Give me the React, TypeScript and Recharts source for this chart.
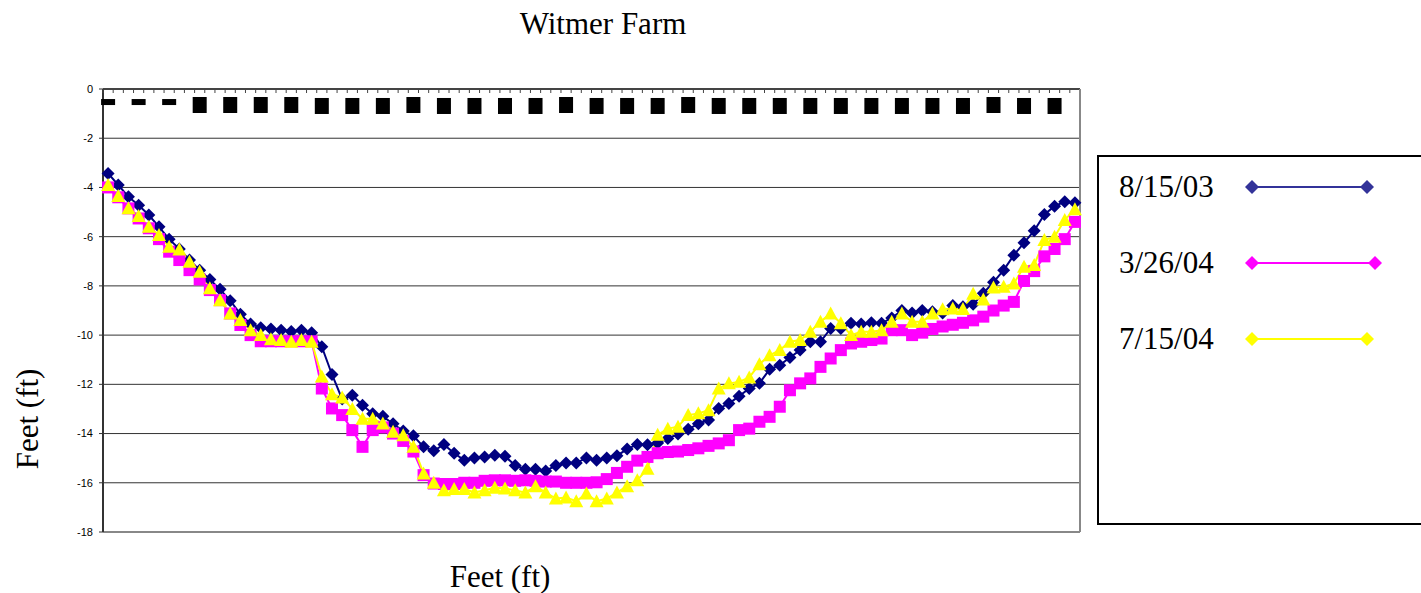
import React from 'react';
import { CartesianGrid, Legend, Line, LineChart, ReferenceLine, XAxis, YAxis } from 'recharts';

// survey stations across the channel (unlabelled on the chart)
const stations = [
  '1', '2', '3', '4', '5', '6', '7', '8', '9', '10', '11', '12', '13', '14', '15', '16',
  '17', '18', '19', '20', '21', '22', '23', '24', '25', '26', '27', '28', '29', '30', '31', '32',
  '33', '34', '35', '36', '37', '38', '39', '40', '41', '42', '43', '44', '45', '46', '47', '48',
  '49', '50', '51', '52', '53', '54', '55', '56', '57', '58', '59', '60', '61', '62', '63', '64',
  '65', '66', '67', '68', '69', '70', '71', '72', '73', '74', '75', '76', '77', '78', '79', '80',
  '81', '82', '83', '84', '85', '86', '87', '88', '89', '90', '91', '92', '93', '94', '95', '96',
];

const survey0803 = [
  -3.43, -3.9, -4.38, -4.72, -5.12, -5.6, -6.1, -6.5, -6.95, -7.36, -7.74, -8.14, -8.6, -9.15, -9.55, -9.7,
  -9.75, -9.8, -9.85, -9.8, -9.9, -10.47, -11.6, -12.6, -12.44, -12.85, -13.2, -13.3, -13.6, -13.9, -14.09, -14.54,
  -14.7, -14.44, -14.8, -15.08, -14.99, -14.95, -14.88, -14.92, -15.3, -15.45, -15.45, -15.52, -15.3, -15.2, -15.2, -14.99,
  -15.08, -14.99, -14.9, -14.63, -14.44, -14.45, -14.38, -14.2, -14.02, -13.83, -13.6, -13.45, -12.98, -12.78, -12.48, -12.17,
  -11.96, -11.39, -11.22, -10.91, -10.61, -10.27, -10.27, -9.73, -9.73, -9.52, -9.55, -9.5, -9.52, -9.3, -9.0, -9.1,
  -9.0, -9.05, -9.1, -8.8, -8.85, -8.75, -8.3, -7.85, -7.36, -6.75, -6.25, -5.76, -5.1, -4.76, -4.58, -4.62,
];

const survey0304 = [
  -4.0, -4.4, -4.85, -5.26, -5.66, -6.1, -6.61, -6.95, -7.36, -7.74, -8.17, -8.58, -9.12, -9.59, -10.0, -10.25,
  -10.25, -10.25, -10.25, -10.25, -10.25, -12.17, -12.98, -13.25, -13.86, -14.54, -13.86, -13.75, -14.0, -14.3, -14.73, -15.69,
  -16.03, -16.05, -16.05, -16.0, -16.0, -15.92, -15.9, -15.9, -15.92, -15.9, -15.92, -15.95, -15.95, -16.0, -16.0, -16.0,
  -15.98, -15.85, -15.6, -15.35, -15.1, -14.95, -14.8, -14.75, -14.73, -14.67, -14.6, -14.5, -14.4, -14.27, -13.86, -13.8,
  -13.52, -13.32, -12.91, -12.24, -11.96, -11.76, -11.29, -10.95, -10.61, -10.34, -10.27, -10.2, -10.14, -9.8, -9.8, -10.0,
  -9.9, -9.75, -9.65, -9.58, -9.5, -9.4, -9.25, -9.0, -8.8, -8.65, -7.8, -7.4, -6.8, -6.5, -6.1, -5.4,
];

const survey0704 = [
  -3.9, -4.35, -4.85, -5.16, -5.6, -5.93, -6.41, -6.52, -7.02, -7.43, -8.1, -8.58, -9.12, -9.39, -9.8, -10.0,
  -10.17, -10.2, -10.27, -10.2, -10.27, -11.68, -12.4, -12.53, -13.0, -13.4, -13.4, -13.59, -13.93, -14.07, -14.54, -15.62,
  -16.0, -16.3, -16.25, -16.25, -16.39, -16.3, -16.2, -16.23, -16.3, -16.4, -16.14, -16.4, -16.64, -16.6, -16.75, -16.44,
  -16.75, -16.64, -16.4, -16.14, -15.9, -15.43, -14.05, -13.8, -13.72, -13.25, -13.18, -13.05, -12.17, -11.96, -11.9, -11.72,
  -11.18, -10.82, -10.61, -10.27, -10.2, -9.86, -9.46, -9.12, -9.52, -10.0, -9.86, -9.86, -9.8, -9.46, -9.12, -9.46,
  -9.46, -9.12, -8.95, -8.92, -8.94, -8.32, -8.55, -8.07, -8.04, -7.9, -7.22, -7.15, -6.14, -6.0, -5.32, -4.89,
];

// black marks near the top, one every third station
const waterDash = [-0.53, -0.53, -0.53];
const waterBlock = [
  -0.65, -0.65, -0.65, -0.65, -0.69, -0.69, -0.69, -0.65, -0.69, -0.69, -0.69, -0.69, -0.65, -0.69, -0.69,
  -0.69, -0.65, -0.69, -0.69, -0.69, -0.69, -0.69, -0.69, -0.69, -0.69, -0.69, -0.65, -0.69, -0.69,
];

const yTicks = [0, -2, -4, -6, -8, -10, -12, -14, -16, -18];
const gridValues = [-2, -4, -6, -8, -10, -12, -14, -16];

const seriesInfo = [
  { key: 's0803', name: '8/15/03', legendColor: '#333399', legendLength: 115 },
  { key: 's0304', name: '3/26/04', legendColor: '#FF00FF', legendLength: 123 },
  { key: 's0704', name: '7/15/04', legendColor: '#FFFF00', legendLength: 115 },
];

const W = 1421;
const H = 593;
const PLOT_LEFT = 103;
const PLOT_TOP = 89;
const PLOT_RIGHT = 1080;
const PLOT_BOTTOM = 532;
const BAND = (PLOT_RIGHT - PLOT_LEFT) / stations.length;

const SERIF = '"Liberation Serif", "Times New Roman", serif';
const SANS = '"Liberation Sans", Arial, sans-serif';

const data = stations.map((station, i) => {
  const k = i / 3;
  const onThird = i % 3 === 0;
  return {
    station,
    s0803: survey0803[i],
    s0304: survey0304[i],
    s0704: survey0704[i],
    dash: onThird && k < waterDash.length ? waterDash[k] : null,
    block: onThird && k >= waterDash.length && k - waterDash.length < waterBlock.length ? waterBlock[k - waterDash.length] : null,
  };
});

const empty = (key: string) => <g key={key} />;

const diamondDot = (color: string) => (props: any) => {
  const { cx, cy, index } = props;
  if (cx == null || cy == null) return empty(`d${index}`);
  return <path key={`d${index}`} d={`M${cx},${cy - 6.5}L${cx + 6.5},${cy}L${cx},${cy + 6.5}L${cx - 6.5},${cy}Z`} fill={color} />;
};

const squareDot = (color: string) => (props: any) => {
  const { cx, cy, index } = props;
  if (cx == null || cy == null) return empty(`s${index}`);
  return <rect key={`s${index}`} x={cx - 6} y={cy - 6} width={12} height={12} fill={color} />;
};

const triangleDot = (color: string) => (props: any) => {
  const { cx, cy, index } = props;
  if (cx == null || cy == null) return empty(`t${index}`);
  return <path key={`t${index}`} d={`M${cx},${cy - 7}L${cx + 7},${cy + 6}L${cx - 7},${cy + 6}Z`} fill={color} />;
};

const blockDot = (h: number) => (props: any) => {
  const { cx, cy, index, value } = props;
  if (cx == null || cy == null || value == null) return empty(`b${h}-${index}`);
  return <rect key={`b${h}-${index}`} x={cx - 7} y={cy - h / 2} width={14} height={h} fill="#000" />;
};

// category axis sits on top, its ticks fall between stations and point down into the plot
const TopTick = (props: any) => {
  const { x } = props;
  return <line x1={x - BAND / 2} x2={x - BAND / 2} y1={PLOT_TOP} y2={PLOT_TOP + 4} stroke="#444" strokeWidth={1} />;
};

const LegendMarker = ({ color, length }: { color: string; length: number }) => (
  <svg width={140} height={20}>
    <line x1={7} x2={7 + length} y1={10} y2={10} stroke={color} strokeWidth={2} />
    <path d="M7,3L14,10L7,17L0,10Z" fill={color} />
    <path d={`M${7 + length},3L${14 + length},10L${7 + length},17L${length},10Z`} fill={color} />
  </svg>
);

const LegendBox = () => (
  <div
    style={{
      width: 340,
      height: 370,
      boxSizing: 'border-box',
      border: '2px solid #000',
      background: '#fff',
      position: 'relative',
      fontFamily: SERIF,
      fontSize: 31,
      color: '#000',
    }}
  >
    {seriesInfo.map((s, i) => (
      <div
        key={s.key}
        style={{ position: 'absolute', left: 20, top: 8 + i * 76, height: 44, display: 'flex', alignItems: 'center' }}
      >
        <span style={{ width: 126, display: 'inline-block', lineHeight: '44px' }}>{s.name}</span>
        <LegendMarker color={s.legendColor} length={s.legendLength} />
      </div>
    ))}
  </div>
);

export default function App() {
  return (
    <div style={{ position: 'absolute', left: 0, top: 0, width: W, height: H, overflow: 'hidden', background: '#fff' }}>
      <div
        style={{
          position: 'absolute', left: 403, top: 4, width: 400, textAlign: 'center',
          fontFamily: SERIF, fontSize: 31, lineHeight: '40px', color: '#000',
        }}
      >
        Witmer Farm
      </div>
      <LineChart
        width={W}
        height={H}
        data={data}
        margin={{ top: PLOT_TOP - 1, right: W - PLOT_RIGHT - 1, bottom: H - PLOT_BOTTOM, left: PLOT_LEFT - 1 }}
      >
        <CartesianGrid vertical={false} horizontalValues={gridValues} stroke="#333" strokeWidth={1} />
        <ReferenceLine y={-18} stroke="#888" strokeWidth={2} ifOverflow="visible" />
        <XAxis
          dataKey="station"
          orientation="top"
          height={1}
          interval={0}
          padding={{ left: BAND / 2, right: BAND / 2 }}
          axisLine={{ stroke: '#444', strokeWidth: 2 }}
          tickLine={false}
          tick={<TopTick />}
        />
        <YAxis
          domain={[-18, 0]}
          ticks={yTicks}
          width={1}
          interval={0}
          tickSize={4}
          tickMargin={6}
          axisLine={{ stroke: '#333', strokeWidth: 2 }}
          tickLine={{ stroke: '#333' }}
          tick={{ fill: '#000', fontSize: 11, fontFamily: SANS }}
        />
        <YAxis
          yAxisId="frame"
          orientation="right"
          domain={[-18, 0]}
          width={1}
          tick={false}
          tickLine={false}
          axisLine={{ stroke: '#888', strokeWidth: 2 }}
        />
        <Line dataKey="s0803" name="8/15/03" stroke="#000080" strokeWidth={2} dot={diamondDot('#000080')} activeDot={false} isAnimationActive={false} />
        <Line dataKey="s0304" name="3/26/04" stroke="#FF00FF" strokeWidth={2} dot={squareDot('#FF00FF')} activeDot={false} isAnimationActive={false} />
        <Line dataKey="s0704" name="7/15/04" stroke="#FFFF00" strokeWidth={2} dot={triangleDot('#FFFF00')} activeDot={false} isAnimationActive={false} />
        <Line dataKey="dash" stroke="none" dot={blockDot(6)} activeDot={false} legendType="none" isAnimationActive={false} />
        <Line dataKey="block" stroke="none" dot={blockDot(16)} activeDot={false} legendType="none" isAnimationActive={false} />
        <Legend
          layout="horizontal"
          align="center"
          verticalAlign="middle"
          content={() => <LegendBox />}
          wrapperStyle={{ position: 'absolute', left: 1097, top: 155, width: 340, height: 370 }}
        />
      </LineChart>
      <div
        style={{
          position: 'absolute', left: -72, top: 399, width: 200, height: 40, lineHeight: '40px',
          textAlign: 'center', transform: 'rotate(-90deg)', fontFamily: SERIF, fontSize: 31, color: '#000',
        }}
      >
        Feet (ft)
      </div>
      <div
        style={{
          position: 'absolute', left: 400, top: 557, width: 200, height: 40, lineHeight: '40px',
          textAlign: 'center', fontFamily: SERIF, fontSize: 31, color: '#000',
        }}
      >
        Feet (ft)
      </div>
    </div>
  );
}
